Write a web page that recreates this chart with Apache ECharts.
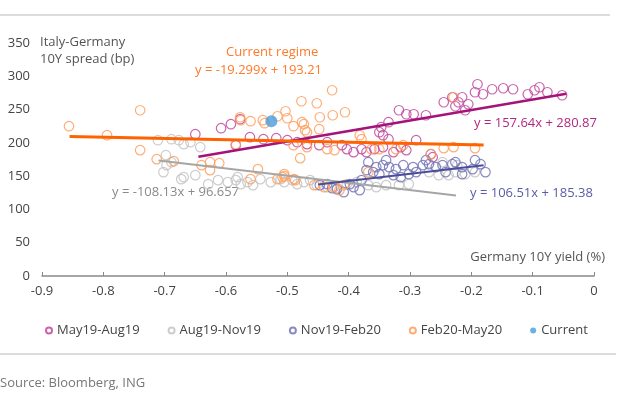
<!DOCTYPE html>
<html>
<head>
<meta charset="utf-8">
<script src="https://cdn.jsdelivr.net/npm/echarts@6/dist/echarts.min.js"></script>
<style>
  html, body { margin: 0; padding: 0; background: #fff; }
  #chart { width: 621px; height: 401px; }
</style>
</head>
<body>
<div id="chart"></div>
<script>
var chartDom = document.getElementById('chart');
var myChart = echarts.init(chartDom);
var option;

// [Germany 10Y yield, Italy-Germany spread]
const may19Aug19 = [
  [-0.650, 213], [-0.608, 222], [-0.592, 228], [-0.577, 235.5], [-0.584, 196.5],
  [-0.561, 208.5], [-0.539, 205.5], [-0.518, 207], [-0.500, 204], [-0.468, 198],
  [-0.448, 196.5], [-0.403, 190.5], [-0.392, 186], [-0.379, 190.5], [-0.371, 186],
  [-0.358, 190.5], [-0.344, 193.5], [-0.327, 186], [-0.315, 193.5], [-0.306, 189],
  [-0.266, 183], [-0.263, 178.5], [-0.350, 216], [-0.344, 211.5], [-0.335, 205.5],
  [-0.347, 223.5], [-0.335, 231], [-0.318, 249], [-0.306, 243], [-0.294, 243],
  [-0.274, 241.5], [-0.290, 204], [-0.245, 261], [-0.231, 268.5], [-0.221, 261],
  [-0.215, 268.5], [-0.205, 258], [-0.194, 276], [-0.190, 288], [-0.166, 280.5],
  [-0.148, 282], [-0.132, 280.5], [-0.108, 273], [-0.097, 279], [-0.089, 283.5],
  [-0.076, 276], [-0.052, 271.5], [-0.226, 255], [-0.210, 249], [-0.181, 273],
  [-0.411, 196.5], [-0.484, 201], [-0.435, 201]
];
const aug19Nov19 = [
  [-0.711, 204], [-0.689, 205.5], [-0.677, 204], [-0.669, 198], [-0.658, 201],
  [-0.642, 193.5], [-0.698, 181.5], [-0.689, 171], [-0.697, 166.5], [-0.702, 156],
  [-0.673, 145.5], [-0.669, 148.5], [-0.650, 151.5], [-0.597, 141], [-0.584, 144],
  [-0.576, 138], [-0.565, 141], [-0.544, 145.5], [-0.581, 148.5], [-0.527, 141],
  [-0.505, 141], [-0.511, 145.5], [-0.492, 144], [-0.473, 141], [-0.463, 144],
  [-0.403, 138], [-0.387, 141], [-0.368, 136.5], [-0.355, 133.5], [-0.339, 136.5],
  [-0.318, 136.5], [-0.302, 138], [-0.269, 156], [-0.253, 151.5], [-0.237, 151.5],
  [-0.226, 156], [-0.210, 153], [-0.194, 156], [-0.223, 166.5], [-0.247, 171],
  [-0.452, 136.5], [-0.435, 133.5], [-0.419, 132], [-0.613, 144], [-0.629, 138],
  [-0.556, 136.5], [-0.484, 138]
];
const nov19Feb20 = [
  [-0.355, 163.5], [-0.344, 166.5], [-0.334, 163.5], [-0.323, 160.5], [-0.311, 166.5],
  [-0.295, 163.5], [-0.279, 166.5], [-0.269, 168], [-0.258, 163.5], [-0.247, 166.5],
  [-0.231, 168], [-0.215, 163.5], [-0.198, 160.5], [-0.177, 156], [-0.350, 153],
  [-0.360, 156], [-0.327, 151.5], [-0.302, 153], [-0.392, 133.5], [-0.382, 129],
  [-0.408, 126], [-0.419, 130.5], [-0.398, 138], [-0.447, 136.5], [-0.242, 156],
  [-0.215, 153], [-0.371, 159], [-0.368, 171], [-0.339, 174], [-0.274, 174],
  [-0.226, 171], [-0.185, 168], [-0.290, 156], [-0.315, 148.5], [-0.435, 138],
  [-0.427, 132], [-0.379, 144], [-0.194, 174]
];
const feb20May20 = [
  [-0.856, 225], [-0.794, 211.5], [-0.740, 249], [-0.740, 189], [-0.713, 175.5],
  [-0.685, 172.5], [-0.640, 166.5], [-0.626, 171], [-0.611, 169.5], [-0.584, 198],
  [-0.577, 238.5], [-0.576, 234], [-0.560, 232.5], [-0.540, 234], [-0.537, 229.5],
  [-0.560, 145.5], [-0.548, 160.5], [-0.516, 240], [-0.503, 247.5], [-0.500, 237],
  [-0.516, 145.5], [-0.505, 150], [-0.490, 225], [-0.490, 196.5], [-0.487, 144],
  [-0.479, 177], [-0.477, 262.5], [-0.476, 231], [-0.473, 228], [-0.471, 219],
  [-0.468, 216], [-0.452, 259.5], [-0.447, 238.5], [-0.427, 279], [-0.426, 241.5],
  [-0.406, 246], [-0.448, 220.5], [-0.468, 193.5], [-0.435, 190.5], [-0.423, 189],
  [-0.382, 211.5], [-0.379, 205.5], [-0.363, 190.5], [-0.350, 190.5], [-0.323, 190.5],
  [-0.311, 196.5], [-0.266, 183], [-0.245, 192], [-0.229, 193.5], [-0.194, 192],
  [-0.229, 268.5], [-0.368, 156], [-0.508, 148.5], [-0.489, 145.5], [-0.456, 136.5],
  [-0.440, 133.5], [-0.424, 133.5], [-0.415, 129], [-0.408, 136.5], [-0.626, 159],
  [-0.505, 153]
];
const current = [[-0.526, 232.5]];

// regression segments (ends)
const fitMay19Aug19 = [[-0.645, 179.2], [-0.045, 273.8]];
const fitAug19Nov19 = [[-0.71, 173.4], [-0.225, 121.0]];
const fitNov19Feb20 = [[-0.45, 137.5], [-0.18, 166.2]];
const fitFeb20May20 = [[-0.855, 209.7], [-0.18, 196.7]];

const xTicks = [-0.9, -0.8, -0.7, -0.6, -0.5, -0.4, -0.3, -0.2, -0.1, 0];
const yTicks = [0, 50, 100, 150, 200, 250, 300, 350];

const legendNames = ['May19-Aug19', 'Aug19-Nov19', 'Nov19-Feb20', 'Feb20-May20', 'Current'];
const FONT = '"Open Sans", sans-serif';

function ring(name, data, color) {
  return {
    name: name,
    type: 'scatter',
    data: data,
    symbolSize: 9.5,
    itemStyle: { color: 'rgba(255,255,255,0)', borderColor: color, borderWidth: 1.2, opacity: 0.85 },
    emphasis: { disabled: true }
  };
}
function fit(data, color, width) {
  return {
    type: 'line',
    data: data,
    showSymbol: false,
    lineStyle: { color: color, width: width },
    z: 3,
    silent: true
  };
}

option = {
  animation: false,
  textStyle: { fontFamily: FONT },
  grid: { left: 42, right: 27, top: 43, bottom: 125 },
  legend: {
    data: legendNames,
    bottom: 59,
    left: 40,
    itemWidth: 6,
    itemHeight: 6,
    itemGap: 28,
    textStyle: { fontSize: 13, color: '#444', fontFamily: FONT }
  },
  xAxis: {
    type: 'value',
    min: -0.9,
    max: 0,
    interval: 0.1,
    splitLine: { show: false },
    axisLine: { onZero: false, lineStyle: { color: '#888', width: 1.5 } },
    axisTick: { show: true, inside: true, length: 4, lineStyle: { color: '#888' } },
    axisLabel: {
      color: '#444', fontSize: 13, margin: 9,
      formatter: function (v) { return xTicks.indexOf(Math.round(v * 10) / 10) >= 0 ? String(Math.round(v * 10) / 10) : ''; }
    }
  },
  yAxis: {
    type: 'value',
    min: 0,
    max: 350,
    interval: 50,
    splitLine: { show: false },
    axisLine: { show: false },
    axisTick: { show: false },
    axisLabel: {
      color: '#444', fontSize: 13, margin: 12,
      formatter: function (v) { return yTicks.indexOf(v) >= 0 ? String(v) : ''; }
    }
  },
  graphic: [
    { type: 'rect', shape: { x: 0, y: 14, width: 610, height: 2 }, style: { fill: '#dcdcdc' } },
    { type: 'rect', shape: { x: 0, y: 353, width: 616, height: 2 }, style: { fill: '#dcdcdc' } },
    { type: 'text', left: 40, top: 34, style: { text: 'Italy-Germany\n10Y spread (bp)', fill: '#555', fontSize: 13, lineHeight: 17, fontFamily: FONT } },
    { type: 'text', left: 226, top: 46, style: { text: 'Current regime', fill: '#ff7a2a', fontSize: 13, fontFamily: FONT } },
    { type: 'text', left: 195, top: 64, style: { text: 'y = -19.299x + 193.21', fill: '#ff7a2a', fontSize: 13, fontFamily: FONT } },
    { type: 'text', left: 474, top: 117, style: { text: 'y = 157.64x + 280.87', fill: '#b3287f', fontSize: 13, fontFamily: FONT } },
    { type: 'text', left: 112, top: 186, style: { text: 'y = -108.13x + 96.657', fill: '#8a8a8a', fontSize: 13, fontFamily: FONT } },
    { type: 'text', left: 470, top: 187, style: { text: 'y = 106.51x + 185.38', fill: '#5a5ca3', fontSize: 13, fontFamily: FONT } },
    { type: 'text', right: 16, top: 251, style: { text: 'Germany 10Y yield (%)', fill: '#555', fontSize: 13, fontFamily: FONT } },
    { type: 'text', left: 0, top: 377, style: { text: 'Source: Bloomberg, ING', fill: '#777', fontSize: 13, fontFamily: FONT } }
  ],
  series: [
    ring('Aug19-Nov19', aug19Nov19, '#c4c4c4'),
    ring('May19-Aug19', may19Aug19, '#c04a9e'),
    ring('Nov19-Feb20', nov19Feb20, '#7476b6'),
    ring('Feb20-May20', feb20May20, '#ff9f5e'),
    fit(fitAug19Nov19, '#a6a6a6', 2),
    fit(fitMay19Aug19, '#a3137a', 2.5),
    fit(fitNov19Feb20, '#4b4d9a', 2),
    fit(fitFeb20May20, '#ff6200', 3),
    {
      name: 'Current',
      type: 'scatter',
      data: current,
      symbolSize: 12,
      itemStyle: { color: '#4a9cdb' },
      z: 5
    }
  ]
};

option && myChart.setOption(option);
</script>
</body>
</html>
